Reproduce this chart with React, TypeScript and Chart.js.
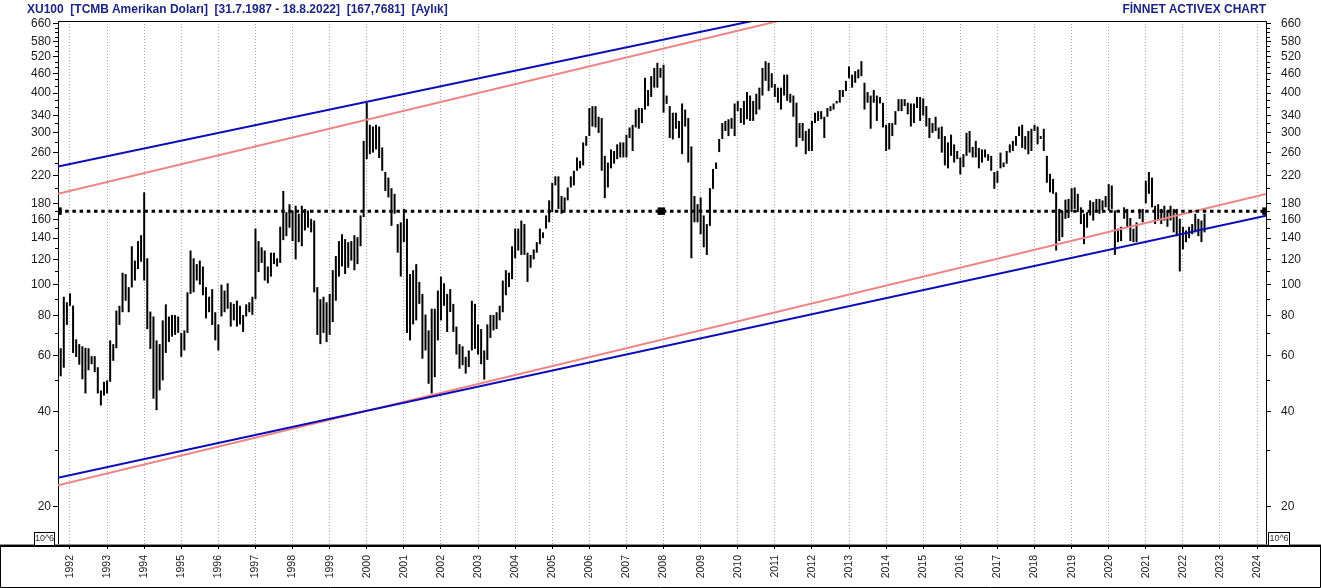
import React, { useEffect, useRef } from 'react';
import { Chart, registerables } from 'chart.js';

Chart.register(...registerables);

// ---- monthly data: first bar = September 1991, last bar = August 2022 ----
const START_YEAR = 1991;
const START_MONTH = 9;

const HIGH = [
  67.6, 63.1, 91.6, 88, // 1991 Sep-Dec
  93.9, 85.9, 67.3, 65, 64, 63.3, 63.1, 59.6, 59.6, 55, 46.5, 49.5, // 1992
  50, 66.8, 65, 82.9, 85.8, 109, 108, 98.2, 132, 119, 137, 143, // 1993
  195, 121, 82.3, 79.4, 66.8, 65, 77.2, 86.7, 79.4, 80.3, 80.3, 79.4, // 1994
  70.5, 71.8, 94.6, 128, 121, 116, 119, 114, 98.2, 91.6, 96.8, 81.9, // 1995
  75, 100, 95.8, 101, 88, 87, 89.1, 85.8, 80.3, 86.7, 88, 91.6, // 1996
  150, 137, 131, 128, 114, 126, 126, 121, 152, 197, 169, 179, // 1997
  171, 177, 167, 177, 173, 171, 161, 159, 98.2, 90, 91.6, 88, // 1998
  93.5, 111, 123, 137, 144, 139, 136, 137, 143, 141, 165, 283, // 1999
  373, 318, 314, 318, 314, 270, 226, 217, 201, 193, 155, 157, // 2000
  173, 161, 108, 111, 116, 102, 93.5, 80.5, 71.8, 84, 84, 95.8, // 2001
  106, 101, 93.5, 96.8, 87, 73.8, 65, 64, 59.3, 62.1, 89, 87, // 2002
  75, 72.5, 62.1, 75, 80.3, 80.3, 81.9, 85.8, 103, 111, 109, 132, // 2003
  150, 150, 159, 155, 126, 124, 129, 136, 150, 146, 165, 184, // 2004
  209, 219, 219, 190, 188, 202, 219, 228, 251, 245, 280, 293, // 2005
  359, 364, 364, 337, 334, 254, 242, 266, 263, 276, 280, 280, // 2006
  296, 312, 318, 355, 359, 359, 447, 409, 452, 480, 498, 480, // 2007
  491, 393, 364, 347, 347, 327, 371, 355, 334, 272, 190, 179, // 2008
  188, 165, 155, 201, 231, 242, 287, 322, 327, 331, 334, 371, // 2009
  378, 359, 378, 403, 393, 378, 398, 416, 480, 504, 498, 462, // 2010
  427, 416, 416, 457, 457, 398, 393, 373, 322, 322, 304, 309, // 2011
  327, 347, 351, 351, 337, 359, 364, 371, 378, 409, 409, 437, // 2012
  485, 457, 469, 475, 504, 431, 403, 393, 409, 393, 389, 373, // 2013
  318, 322, 322, 351, 383, 383, 383, 373, 371, 371, 389, 389, // 2014
  385, 364, 334, 322, 337, 312, 314, 293, 280, 296, 276, 263, // 2015
  251, 257, 300, 304, 271, 283, 269, 266, 266, 257, 254, 226, // 2016
  228, 260, 242, 263, 276, 283, 293, 314, 318, 293, 304, 309, // 2017
  318, 314, 293, 309, 254, 223, 215, 195, 173, 171, 185, 186, // 2018
  201, 202, 193, 175, 167, 169, 184, 182, 186, 186, 184, 190, // 2019
  207, 205, 171, 150, 152, 175, 173, 162, 150, 157, 173, 173, // 2020
  212, 226, 217, 177, 179, 173, 177, 171, 177, 173, 173, 161, // 2021
  152, 148, 152, 155, 167, 161, 159, 167, // 2022 Jan-Aug
];

const LOW = [
  62.1, 51.5, 54.8, 74.7, // 1991 Sep-Dec
  85.8, 61, 59.2, 56, 50.4, 45.5, 53.8, 56.2, 53.1, 45.5, 41.7, 44.8, // 1992
  45.5, 49.5, 57.6, 63.1, 74.7, 81.9, 89, 81.9, 98, 103, 112, 118, // 1993
  103, 72.5, 62.8, 43.8, 40.3, 46.5, 50, 61, 66, 68.6, 69.5, 70.5, // 1994
  59.3, 62.1, 70.5, 93.5, 94.6, 103, 100, 92.6, 78.3, 81.9, 74.7, 66.8, // 1995
  62.1, 79.4, 81.9, 84, 73.8, 77.2, 73.8, 75, 71, 79.4, 81.9, 80.3, // 1996
  90, 109.5, 117, 103, 101, 106, 116, 114, 117, 138, 142, 151, // 1997
  137, 120, 136, 132, 148, 151, 146, 94.6, 69.5, 65, 70.5, 66, // 1998
  69.5, 76.3, 89, 106, 114, 108, 113, 119, 111, 116, 132, 163, // 1999
  248, 257, 260, 266, 250, 228, 197, 188, 153, 167, 126, 106, // 2000
  136, 70.5, 66.8, 75, 77.2, 87, 58.5, 62.1, 48.8, 45.5, 51.2, 66.8, // 2001
  77.2, 85.8, 71, 82, 71, 60.3, 54.4, 55.8, 52.5, 55.1, 62.1, 62.8, // 2002
  60.3, 56.2, 50.3, 58, 68, 71.8, 72.5, 77.2, 81.9, 92.6, 98.2, 104, // 2003
  121, 128, 124, 124, 102, 113, 120, 126, 134, 140, 150, 157, // 2004
  169, 205, 173, 167, 171, 184, 202, 205, 228, 232, 237, 273, // 2005
  293, 314, 312, 300, 228, 187, 202, 232, 240, 248, 251, 251, // 2006
  251, 289, 263, 312, 309, 322, 355, 364, 389, 416, 416, 447, // 2007
  347, 370, 289, 286, 309, 289, 257, 314, 242, 121, 157, 157, // 2008
  144, 131, 124, 153, 200, 231, 261, 287, 304, 293, 309, 293, // 2009
  351, 322, 318, 331, 327, 327, 343, 355, 393, 437, 406, 416, // 2010
  389, 373, 355, 393, 378, 373, 337, 271, 289, 283, 257, 263, // 2011
  263, 322, 327, 331, 289, 337, 351, 355, 371, 373, 389, 406, // 2012
  445, 416, 431, 445, 452, 355, 373, 309, 373, 327, 371, 312, // 2013
  263, 266, 293, 318, 351, 351, 364, 343, 314, 322, 359, 327, // 2014
  340, 314, 289, 300, 304, 287, 260, 237, 232, 254, 242, 248, // 2015
  222, 234, 254, 260, 251, 251, 232, 242, 251, 245, 228, 200, // 2016
  209, 232, 234, 240, 260, 263, 273, 293, 269, 266, 257, 263, // 2017
  304, 276, 287, 263, 209, 195, 193, 128, 137, 141, 161, 162, // 2018
  169, 173, 169, 155, 134, 151, 165, 159, 169, 167, 171, 175, // 2019
  171, 173, 124, 136, 137, 161, 151, 137, 136, 136, 161, 157, // 2020
  180, 193, 175, 155, 159, 155, 159, 152, 159, 146, 142, 110, // 2021
  129, 136, 140, 144, 146, 142, 136, 146, // 2022 Jan-Aug
];

// ---- trend channel lines (year, value) ----
const UPPER_BLUE = [{ x: 1991.677, y: 235 }, { x: 2024.24, y: 1470 }];
const UPPER_PINK = [{ x: 1991.677, y: 193 }, { x: 2024.24, y: 1571 }];
const LOWER_BLUE = [{ x: 1991.677, y: 24.7 }, { x: 2024.24, y: 164.7 }];
const LOWER_PINK = [{ x: 1991.677, y: 23.4 }, { x: 2024.24, y: 192.6 }];

// ---- horizontal reference level and its markers ----
const REF_LEVEL = 170.2;
const REF_MARKS = [1991.677, 2007.94, 2024.24];

// ---- axes ----
const X_MIN = 1991.677;
const X_MAX = 2024.24;
const Y_MIN = 15.19;
const Y_MAX = 674;
const YEAR_TICKS = [
  1992, 1993, 1994, 1995, 1996, 1997, 1998, 1999, 2000, 2001, 2002, 2003, 2004,
  2005, 2006, 2007, 2008, 2009, 2010, 2011, 2012, 2013, 2014, 2015, 2016, 2017,
  2018, 2019, 2020, 2021, 2022, 2023, 2024,
];
const Y_LABELS = [20, 40, 60, 80, 100, 120, 140, 160, 180, 220, 260, 300, 340, 400, 460, 520, 580, 660];
const Y_MINOR = [30, 50, 70, 90, 110, 130, 150, 170, 200, 240, 280, 320, 360, 380, 420, 440, 480, 500, 540, 560, 600, 620, 640];

const FONT = '"Liberation Sans", Arial, sans-serif';
const NAVY = '#1c2580';
const BLUE = '#0c0cb8';
const PINK = '#ee8484';

const framePlugin = {
  id: 'frame',
  afterDraw(chart: any) {
    const { ctx, chartArea: a, width, height } = chart;
    ctx.save();
    ctx.strokeStyle = '#000';
    ctx.lineWidth = 1;
    // top border of plot
    ctx.beginPath();
    ctx.moveTo(a.left, a.top + 0.5);
    ctx.lineTo(a.right, a.top + 0.5);
    ctx.stroke();
    // frame of the date strip
    ctx.beginPath();
    ctx.moveTo(0.5, a.bottom);
    ctx.lineTo(0.5, height - 0.5);
    ctx.lineTo(width - 0.5, height - 0.5);
    ctx.lineTo(width - 0.5, a.bottom);
    ctx.stroke();
    // full width base line
    ctx.strokeStyle = '#909090';
    ctx.beginPath();
    ctx.moveTo(0, a.bottom - 0.5);
    ctx.lineTo(width, a.bottom - 0.5);
    ctx.stroke();
    ctx.strokeStyle = '#000';
    ctx.lineWidth = 2;
    ctx.beginPath();
    ctx.moveTo(0, a.bottom + 1);
    ctx.lineTo(width, a.bottom + 1);
    ctx.stroke();
    // 10^6 boxes
    const box = (x: number, w: number) => {
      ctx.fillStyle = '#fff';
      ctx.fillRect(x, a.bottom - 13, w, 13);
      ctx.strokeStyle = '#000';
      ctx.lineWidth = 1;
      ctx.strokeRect(x + 0.5, a.bottom - 12.5, w - 1, 13);
      ctx.fillStyle = '#333';
      ctx.font = `9px ${FONT}`;
      ctx.textAlign = 'center';
      ctx.textBaseline = 'middle';
      ctx.fillText('10^6', x + w / 2, a.bottom - 6);
    };
    box(a.left - 24, 21);
    box(a.right + 2, 22);
    ctx.restore();
  },
};

export default function App() {
  const ref = useRef<HTMLCanvasElement>(null);

  useEffect(() => {
    document.body.style.margin = '0';
    const canvas = ref.current;
    if (!canvas) return;

    const bars = HIGH.map((h, i) => ({
      x: START_YEAR + (START_MONTH - 1 + i) / 12,
      y: [LOW[i], h],
    }));

    const lineDs = (data: any, color: string, order: number) => ({
      type: 'line' as const,
      data,
      borderColor: color,
      borderWidth: 2,
      pointRadius: 0,
      tension: 0,
      order,
    });

    const yAxis = (position: 'left' | 'right') => ({
      type: 'logarithmic' as const,
      position,
      min: Y_MIN,
      max: Y_MAX,
      grid: {
        drawOnChartArea: false,
        drawTicks: true,
        tickLength: 5,
        tickColor: '#000',
        tickBorderDash: (c: any) =>
          c.tick && Y_LABELS.includes(c.tick.value)
            ? []
            : position === 'left'
            ? [0, 2, 3]
            : [3, 10],
      },
      border: { display: true, color: '#000', width: 1 },
      afterBuildTicks: (s: any) => {
        s.ticks = [...Y_LABELS, ...Y_MINOR].sort((p, q) => p - q).map((v) => ({ value: v }));
      },
      afterFit: (s: any) => {
        s.width = position === 'left' ? 58 : 55;
      },
      ticks: {
        autoSkip: false,
        padding: position === 'left' ? 2 : 10,
        color: '#1a1a1a',
        font: { family: FONT, size: 12 },
        callback: (v: any) => (Y_LABELS.includes(Number(v)) ? String(v) : ''),
      },
    });

    const chart = new Chart(canvas, {
      type: 'bar',
      data: {
        datasets: [
          {
            type: 'bar',
            data: bars as any,
            backgroundColor: '#000',
            borderWidth: 0,
            barThickness: 2,
            inflateAmount: 0,
            order: 5,
          } as any,
          lineDs(UPPER_PINK, PINK, 3),
          lineDs(LOWER_PINK, PINK, 3),
          lineDs(UPPER_BLUE, BLUE, 2),
          lineDs(LOWER_BLUE, BLUE, 2),
          {
            type: 'line',
            data: [{ x: X_MIN, y: REF_LEVEL }, { x: X_MAX, y: REF_LEVEL }],
            borderColor: '#000',
            borderWidth: 3,
            borderDash: [3.5, 3.7],
            pointRadius: 0,
            order: 1,
          } as any,
          {
            type: 'line',
            data: REF_MARKS.map((x) => ({ x, y: REF_LEVEL })),
            showLine: false,
            pointStyle: 'rect',
            pointRadius: 5.3,
            pointBorderWidth: 0,
            pointBackgroundColor: '#000',
            clip: 0,
            order: 0,
          } as any,
        ],
      },
      options: {
        responsive: false,
        animation: false,
        devicePixelRatio: 1,
        layout: { padding: { top: 21, left: 0, right: 0, bottom: 0 } },
        plugins: {
          legend: { display: false },
          tooltip: { enabled: false },
          title: { display: false },
        },
        scales: {
          x: {
            type: 'linear',
            position: 'bottom',
            min: X_MIN,
            max: X_MAX,
            offset: false,
            grid: {
              display: true,
              drawOnChartArea: true,
              color: '#a8a8a8',
              lineWidth: 1,
              tickLength: 4,
              tickColor: '#000',
              offset: false,
            },
            border: { display: true, color: '#000', width: 1, dash: [1, 2] },
            afterBuildTicks: (s: any) => {
              s.ticks = YEAR_TICKS.map((v) => ({ value: v }));
            },
            afterFit: (s: any) => {
              s.height = 43;
            },
            ticks: {
              autoSkip: false,
              minRotation: 90,
              maxRotation: 90,
              padding: 6,
              color: '#1a1a1a',
              font: { family: FONT, size: 10.5 },
              callback: (v: any) => String(v),
            },
          } as any,
          y: yAxis('left') as any,
          y2: yAxis('right') as any,
        },
      },
      plugins: [framePlugin],
    });

    return () => chart.destroy();
  }, []);

  const headerStyle: React.CSSProperties = {
    position: 'absolute',
    top: 2,
    font: `bold 12px ${FONT}`,
    lineHeight: '14px',
    color: NAVY,
    whiteSpace: 'pre',
  };

  return (
    <div style={{ position: 'relative', width: 1321, height: 588, background: '#fff', overflow: 'hidden' }}>
      <canvas ref={ref} width={1321} height={588} style={{ display: 'block', width: 1321, height: 588 }} />
      <div style={{ ...headerStyle, left: 27 }}>
        {'XU100  [TCMB Amerikan Doları]  [31.7.1987 - 18.8.2022]  [167,7681]  [Aylık]'}
      </div>
      <div style={{ ...headerStyle, right: 1321 - 1266 }}>{'FİNNET ACTIVEX CHART'}</div>
    </div>
  );
}
